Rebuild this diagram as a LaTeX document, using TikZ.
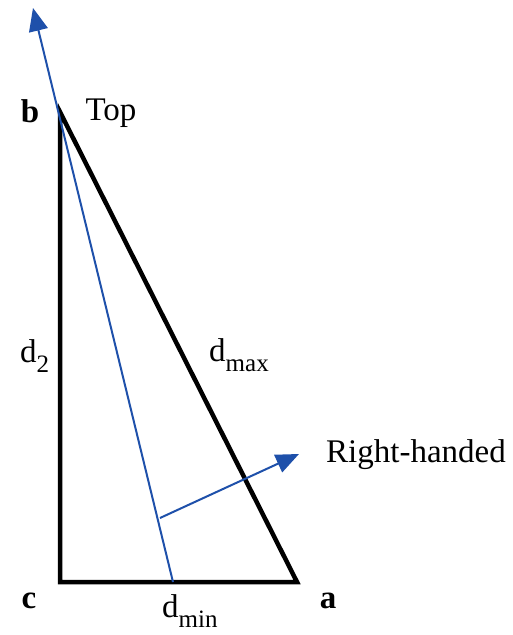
\documentclass[tikz,border=0pt]{standalone}
\usepackage{fontspec}
\setmainfont{Liberation Serif}
\usetikzlibrary{arrows.meta}
\definecolor{myblue}{RGB}{30,80,170}
\newcommand{\sbs}[1]{\raisebox{-0.32em}{\fontsize{25}{25}\selectfont #1}}
\begin{document}
\begin{tikzpicture}[x=1pt,y=-1pt,
  lbl/.style={font=\fontsize{33}{33}\selectfont, inner sep=0pt},
  blbl/.style={font=\fontsize{33}{33}\selectfont\bfseries, inner sep=0pt},
  edge/.style={line width=4.5pt, black, line join=miter},
  ray/.style={line width=2pt, myblue, -{Triangle[length=23pt,width=19pt]}}]
\useasboundingbox (0,0) rectangle (513,635);
\coordinate (b) at (60,112);
\coordinate (c) at (60,582);
\coordinate (a) at (297,582);
\coordinate (foot) at (173,582);
\coordinate (top) at (33,8);
\coordinate (p) at (160,518);
\coordinate (rh) at (299,454);
\draw[edge] (b) -- (c) -- (a) -- cycle;
\draw[ray] (foot) -- (top);
\draw[ray] (p) -- (rh);
\node[blbl] (lb) at (30,111) {b};
\node[blbl] (lc) at (29,601) {c};
\node[blbl] (la) at (328,601) {a};
\node[lbl] (ltop) at (111,113) {Top};
\node[lbl, anchor=base west] (ld2) at (20,362) {d\sbs{2}};
\node[lbl, anchor=base west] (ldmax) at (209,361) {d\sbs{max}};
\node[lbl, anchor=base west] (ldmin) at (162,617) {d\sbs{min}};
\node[lbl, anchor=west] (lrh) at (326,455) {Right-handed};
\end{tikzpicture}
\end{document}
